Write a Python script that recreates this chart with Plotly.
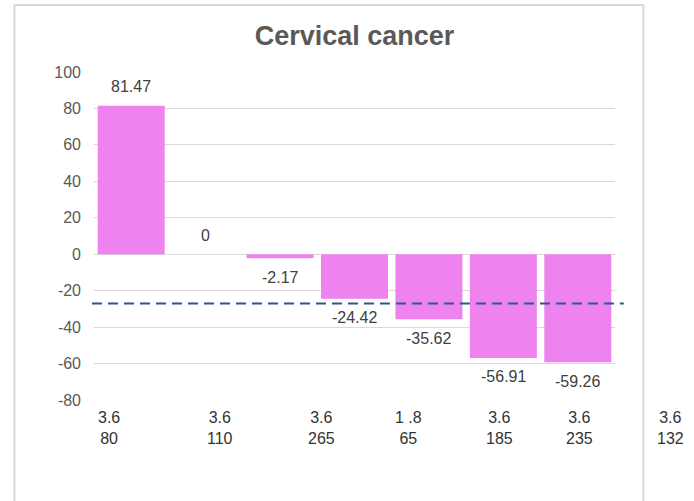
import plotly.graph_objects as go

# Bar values per group
groups = ["G1", "G2", "G3", "G4", "G5", "G6", "G7"]
values = [81.47, 0, -2.17, -24.42, -35.62, -56.91, -59.26]

# Dose / count labels printed under the axis
label_top = ["3.6", "3.6", "3.6", "1 .8", "3.6", "3.6", "3.6"]
label_bottom = ["80", "110", "265", "65", "185", "235", "132"]
label_pos = [-0.30, 1.19, 2.56, 3.73, 4.95, 6.02, 7.24]

# y-axis ticks (plain hyphen for negatives)
y_ticks = [100, 80, 60, 40, 20, 0, -20, -40, -60, -80]

reference_level = -27

FONT = "Liberation Sans, Arial, sans-serif"
BAR_COLOR = "#ee82ee"
GRID = "#d9d9d9"

x_idx = list(range(len(groups)))
n = len(groups)

fig = go.Figure()
fig.add_trace(go.Bar(
    x=x_idx,
    y=values,
    marker=dict(color=BAR_COLOR, line=dict(width=0)),
    hoverinfo="x+y",
))

annotations = []
# value labels beyond the end of each bar
for i, v in enumerate(values):
    up = v >= 0
    annotations.append(dict(
        x=i, y=v, xref="x", yref="y",
        text=f"{v:g}",
        showarrow=False,
        yshift=19 if up else -19,
        font=dict(family=FONT, size=16, color="#404040"),
        xanchor="center", yanchor="middle",
    ))

# two-line labels beneath the plot (category units mapped to paper space)
for xp, t, b in zip(label_pos, label_top, label_bottom):
    annotations.append(dict(
        x=(xp + 0.5) / n, y=-0.0854, xref="paper", yref="paper",
        text=f"{t}<br>{b}",
        showarrow=False,
        align="center",
        font=dict(family=FONT, size=16, color="#333333"),
        xanchor="center", yanchor="middle",
    ))

shapes = [
    # dashed reference level
    dict(type="line", xref="paper", yref="y",
         x0=-0.004, x1=1.017, y0=reference_level, y1=reference_level,
         line=dict(color="#2f5597", width=2, dash="10px,6px"),
         layer="above"),
    # outer chart frame
    dict(type="rect", xref="paper", yref="paper",
         x0=-0.1526, x1=1.0543, y0=-0.40, y1=1.2043,
         line=dict(color=GRID, width=2), fillcolor="rgba(0,0,0,0)",
         layer="below"),
]

fig.update_layout(
    width=694, height=501,
    margin=dict(l=94, r=79, t=72, b=101),
    paper_bgcolor="white",
    plot_bgcolor="white",
    showlegend=False,
    bargap=0.1,
    title=dict(
        text="<b>Cervical cancer</b>",
        x=354.5 / 694, xanchor="center",
        y=1 - 36 / 501, yanchor="middle",
        yref="container", xref="container",
        font=dict(family=FONT, size=27, color="#595959"),
    ),
    xaxis=dict(
        range=[-0.5, n - 0.5],
        showticklabels=False,
        showgrid=False, zeroline=False, showline=False,
        ticks="",
    ),
    yaxis=dict(
        range=[-80, 100],
        tickmode="array",
        tickvals=y_ticks,
        ticktext=[str(t) for t in y_ticks],
        showgrid=True, gridcolor=GRID, gridwidth=1,
        zeroline=True, zerolinecolor=GRID, zerolinewidth=1,
        showline=False, ticks="",
        ticklabelstandoff=12,
        tickfont=dict(family=FONT, size=16, color="#595959"),
    ),
    annotations=annotations,
    shapes=shapes,
)

fig.write_html("out.html")
